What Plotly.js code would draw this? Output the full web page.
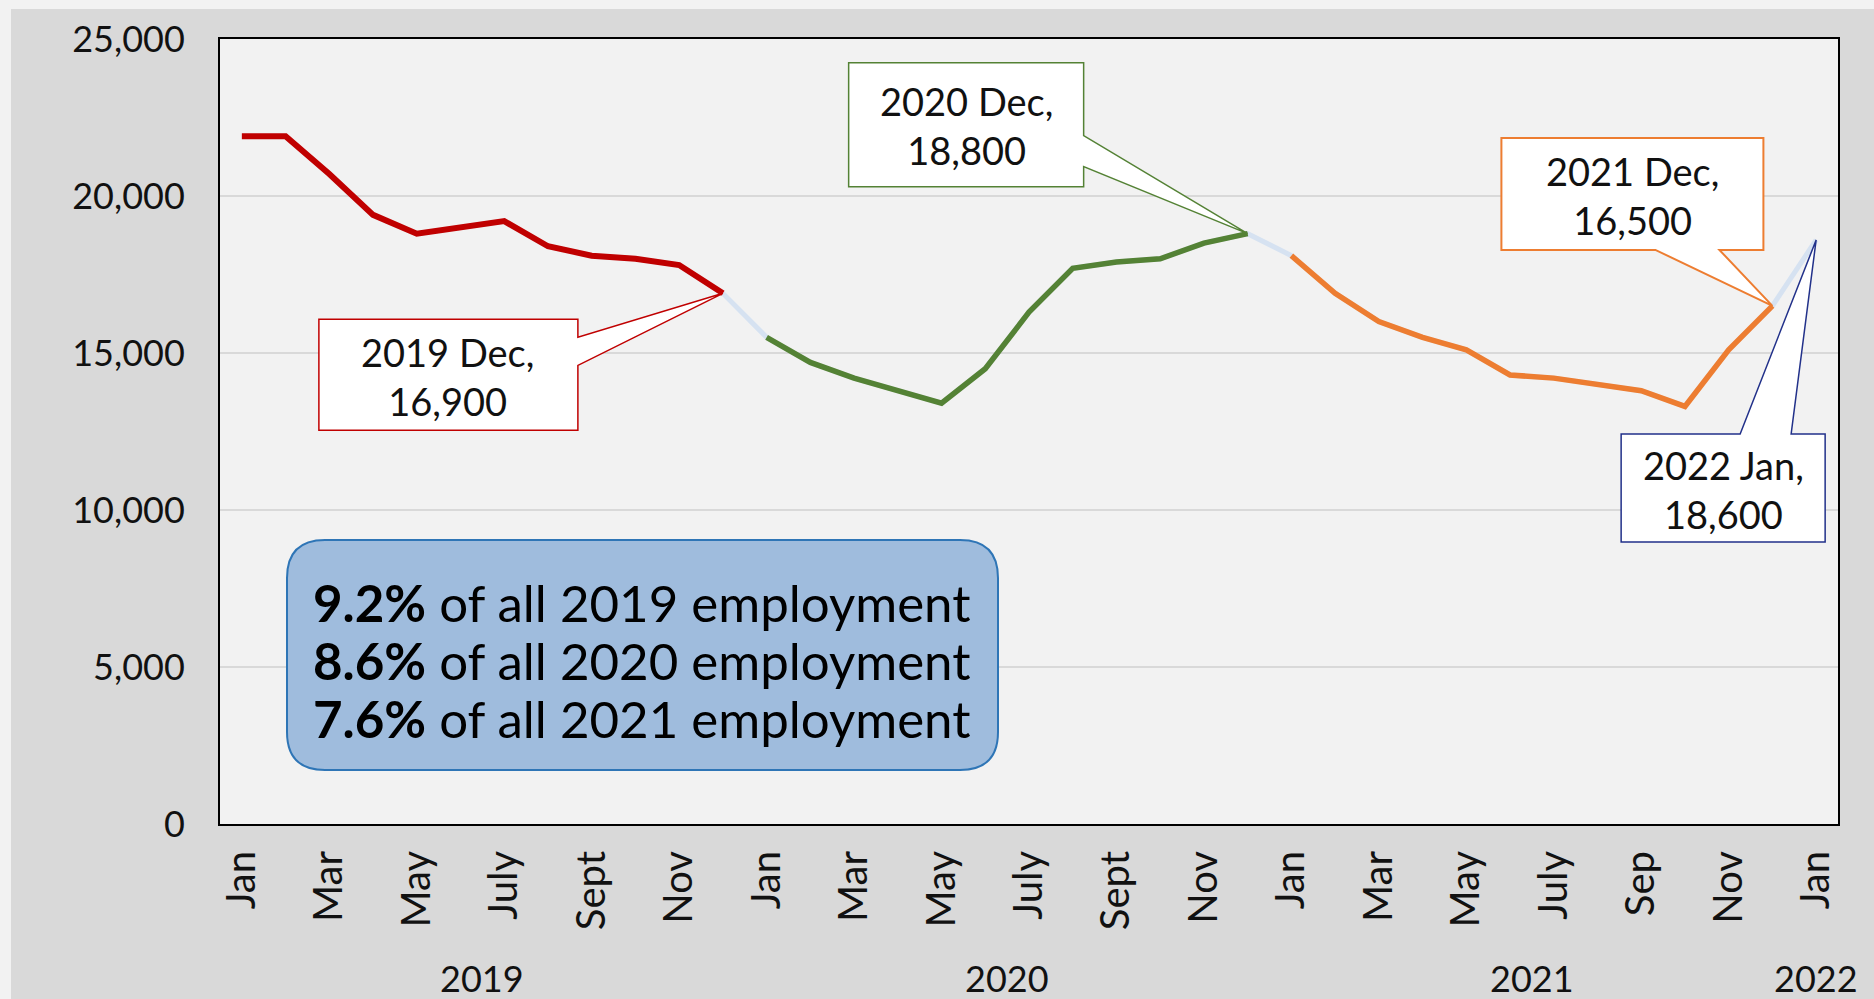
<!DOCTYPE html>
<html>
<head>
<meta charset="utf-8">
<script src="https://cdn.plot.ly/plotly-3.0.1.min.js"></script>
<style>
  html, body { margin: 0; padding: 0; background: #f2f2f2; width: 1874px; height: 999px; overflow: hidden; }
  #chart { position: absolute; left: 11px; top: 9px; width: 1863px; height: 990px; }
</style>
</head>
<body>
<div id="chart"></div>
<script>
// ---- data ----
const years = ['2019', '2020', '2021', '2022'];
const monthNames = ['Jan','Feb','Mar','Apr','May','Jun','Jul','Aug','Sep','Oct','Nov','Dec'];
const tickLabels = ['Jan','Mar','May','July','Sept','Nov',
                    'Jan','Mar','May','July','Sept','Nov',
                    'Jan','Mar','May','July','Sep','Nov',
                    'Jan'];
const values2019 = [21900, 21900, 20700, 19400, 18800, 19000, 19200, 18400, 18100, 18000, 17800, 16900];
const values2020 = [15500, 14700, 14200, 13800, 13400, 14500, 16300, 17700, 17900, 18000, 18500, 18800];
const values2021 = [18100, 16900, 16000, 15500, 15100, 14300, 14200, 14000, 13800, 13300, 15100, 16500];
const values2022 = [18600];
const sharePct = ['9.2%', '8.6%', '7.6%'];
const shareYears = ['2019', '2020', '2021'];

// ---- build ----
const FONT = 'Lato, "Open Sans", sans-serif';
const allValues = values2019.concat(values2020, values2021, values2022);
const allX = allValues.map((v, i) => i);
const xOf = (yearIdx, monthIdx) => yearIdx * 12 + monthIdx;
const fmt = v => v.toLocaleString('en-US');

const traces = [
  { x: allX, y: allValues, mode: 'lines', line: { color: '#d6e2f1', width: 5 }, hoverinfo: 'skip', showlegend: false },
  { x: values2019.map((v, i) => xOf(0, i)), y: values2019, mode: 'lines', line: { color: '#c00000', width: 6 }, showlegend: false },
  { x: values2020.map((v, i) => xOf(1, i)), y: values2020, mode: 'lines', line: { color: '#548235', width: 5.5 }, showlegend: false },
  { x: values2021.map((v, i) => xOf(2, i)), y: values2021, mode: 'lines', line: { color: '#ed7d31', width: 5.5 }, showlegend: false }
];

const tickVals = tickLabels.map((t, i) => i * 2);

// callouts: anchor data point, box polygon in pixel offsets (y up), text offset
const callouts = [
  { x: xOf(0, 11), y: values2019[11], label: years[0] + ' Dec,', color: '#c00000', w: 1.5,
    path: 'M -404,-26 L -145,-26 L -145,-44 L 0,0 L -145,-72 L -145,-137 L -404,-137 Z', tx: -275, ty: -83 },
  { x: xOf(1, 11), y: values2020[11], label: years[1] + ' Dec,', color: '#548235', w: 1.5,
    path: 'M -399,171 L -164,171 L -164,98 L 0,0 L -164,67 L -164,47 L -399,47 Z', tx: -281, ty: 108 },
  { x: xOf(2, 11), y: values2021[11], label: years[2] + ' Dec,', color: '#ed7d31', w: 2,
    path: 'M -271,168 L -9,168 L -9,56 L -53,56 L 0,0 L -117,56 L -271,56 Z', tx: -140, ty: 110 },
  { x: xOf(3, 0), y: values2022[0], label: years[3] + ' Jan,', color: '#22318a', w: 1.5,
    path: 'M -195,-194 L -76,-194 L 0,0 L -25,-194 L 9,-194 L 9,-302 L -195,-302 Z', tx: -93, ty: -250 }
];

const shapes = [];
const annotations = [];

callouts.forEach(c => {
  shapes.push({ type: 'path', layer: 'above', xref: 'x', yref: 'y',
    xsizemode: 'pixel', ysizemode: 'pixel', xanchor: c.x, yanchor: c.y,
    path: c.path, fillcolor: '#ffffff', line: { color: c.color, width: c.w } });
  annotations.push({ xref: 'x', yref: 'y', x: c.x, y: c.y, xshift: c.tx, yshift: c.ty,
    showarrow: false, xanchor: 'center', yanchor: 'middle', align: 'center',
    text: c.label + '<br>' + fmt(c.y), font: { family: FONT, size: 38, color: '#111' } });
});

// rounded info box
shapes.push({ type: 'path', layer: 'above', xref: 'paper', yref: 'paper',
  xsizemode: 'pixel', ysizemode: 'pixel', xanchor: 0, yanchor: 0,
  path: 'M 105,54 L 740,54 Q 778,54 778,92 L 778,246 Q 778,284 740,284 L 105,284 Q 67,284 67,246 L 67,92 Q 67,54 105,54 Z',
  fillcolor: '#9fbcdd', line: { color: '#2e75b6', width: 2 } });

sharePct.forEach((p, i) => {
  annotations.push({ xref: 'paper', yref: 'paper', x: 0, y: 0, xshift: 91, yshift: 222 - i * 58,
    xanchor: 'left', yanchor: 'middle', showarrow: false, align: 'left',
    text: '<b>' + p + '</b> of all ' + shareYears[i] + ' employment',
    font: { family: FONT, size: 51, color: '#000' } });
});

// year labels below month ticks
const yearCenters = [5.5, 17.5, 29.5, 36];
years.forEach((yr, i) => {
  annotations.push({ xref: 'x', yref: 'paper', x: yearCenters[i], y: 0, yshift: -154,
    xanchor: 'center', yanchor: 'middle', showarrow: false, text: yr,
    font: { family: FONT, size: 36, color: '#111' } });
});

const layout = {
  width: 1863, height: 990,
  margin: { l: 209, r: 36, t: 30, b: 175 },
  paper_bgcolor: '#d9d9d9',
  plot_bgcolor: '#f2f2f2',
  font: { family: FONT, color: '#111' },
  showlegend: false,
  xaxis: {
    range: [-0.5, 36.5], tickmode: 'array', tickvals: tickVals, ticktext: tickLabels,
    tickangle: -90, tickfont: { family: FONT, size: 40, color: '#111' },
    showgrid: false, zeroline: false, showline: true, mirror: true,
    linecolor: '#000', linewidth: 2, ticks: '', ticklabelstandoff: 9
  },
  yaxis: {
    range: [0, 25000], dtick: 5000, tickformat: ',d',
    tickfont: { family: FONT, size: 36, color: '#111' },
    gridcolor: '#d9d9d9', gridwidth: 2, zeroline: false,
    showline: true, mirror: true, linecolor: '#000', linewidth: 2,
    ticks: '', ticklabelstandoff: 26
  },
  shapes: shapes,
  annotations: annotations
};

Plotly.newPlot('chart', traces, layout, { displayModeBar: false, staticPlot: true });
</script>
</body>
</html>
